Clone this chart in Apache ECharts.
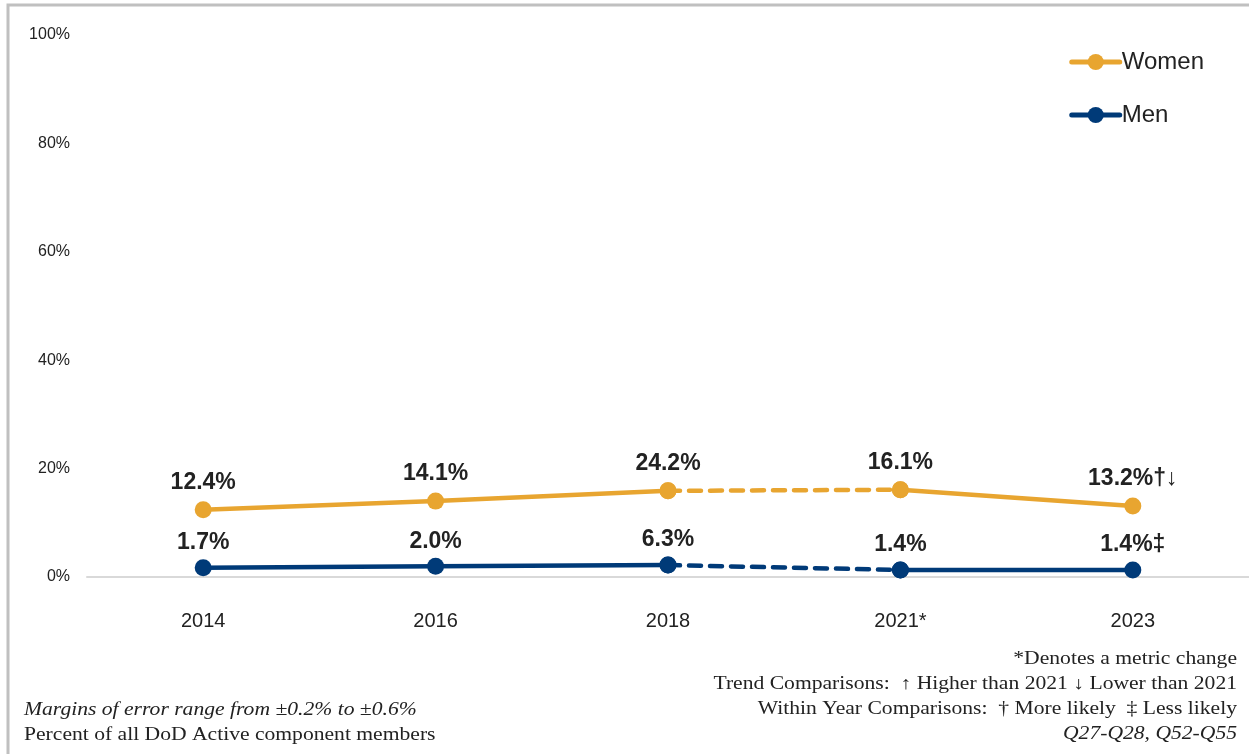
<!DOCTYPE html>
<html>
<head>
<meta charset="utf-8">
<script src="https://cdn.jsdelivr.net/npm/echarts@6/dist/echarts.min.js"></script>
<style>
  html, body { margin: 0; padding: 0; background: #fff; }
  #chart { width: 1249px; height: 754px; }
</style>
</head>
<body>
<div id="chart"></div>
<script>
// years on the x axis
const years = ["2014", "2016", "2018", "2021*", "2023"];
// where the points sit on the picture (percent)
const women = [12.4, 14.0, 15.9, 16.1, 13.1];
const men = [1.7, 2.0, 2.2, 1.3, 1.3];
// printed labels
const womenLabels = ["12.4%", "14.1%", "24.2%", "16.1%", "13.2%†↓"];
const menLabels = ["1.7%", "2.0%", "6.3%", "1.4%", "1.4%‡"];
// y ticks
const yTicks = [0, 20, 40, 60, 80, 100];

const ORANGE = "#E8A530";
const NAVY = "#003A78";
const SERIF = "'Liberation Serif', 'Times New Roman', serif";
const SANS = "Liberation Sans, Arial, sans-serif";

const chart = echarts.init(document.getElementById("chart"));

// solid 2014-2018 and 2021-2023, dashed 2018-2021
function firstPart(vals) {
  return vals.map((v, i) => (i <= 2 ? v : "-"));
}
function lastPart(vals) {
  return vals.map((v, i) => (i >= 3 ? v : "-"));
}
function dashPart(vals) {
  return vals.map((v, i) => (i === 2 || i === 3 ? v : "-"));
}

function labelCfg(labels, dist) {
  return {
    show: true,
    position: "top",
    distance: dist,
    fontFamily: SANS,
    fontSize: 23,
    fontWeight: "bold",
    color: "#222",
    formatter: (p) => labels[p.dataIndex],
  };
}

function lineSeries(name, data, color, labels, dashed, dist) {
  return {
    name: name,
    type: "line",
    data: data,
    symbol: "circle",
    symbolSize: 17,
    showSymbol: true,
    silent: true,
    z: dashed ? 2 : 3,
    lineStyle: { color: color, width: 4.5, type: dashed ? [12, 9] : "solid", cap: "round" },
    itemStyle: { color: color },
    label: labels ? labelCfg(labels, dist) : { show: false },
  };
}

function note(text, x, y, align, italic) {
  return {
    type: "text",
    x: x,
    y: y,
    scaleX: 1.2,
    style: {
      text: text,
      font: (italic ? "italic " : "") + "18px " + SERIF,
      fill: "#222",
      align: align,
      verticalAlign: "middle",
    },
  };
}

chart.setOption({
  animation: false,
  backgroundColor: "#fff",
  graphic: [
    {
      type: "rect",
      shape: { x: 8, y: 5, width: 1300, height: 800 },
      style: { fill: "none", stroke: "#c0c0c0", lineWidth: 3 },
      z: 0,
    },
    note("Margins of error range from ±0.2% to ±0.6%", 24, 710, "left", true),
    note("Percent of all DoD Active component members", 24, 735, "left", false),
    note("*Denotes a metric change", 1237, 659, "right", false),
    note("Trend Comparisons:  ↑ Higher than 2021 ↓ Lower than 2021", 1237, 684, "right", false),
    note("Within Year Comparisons:  † More likely  ‡ Less likely", 1237, 709, "right", false),
    note("Q27-Q28, Q52-Q55", 1237, 734, "right", true),
  ],
  legend: {
    orient: "vertical",
    right: 40,
    top: 45,
    itemWidth: 48,
    itemHeight: 20,
    itemGap: 29,
    data: ["Women", "Men"],
    lineStyle: { width: 5 },
    textStyle: {
      fontFamily: SANS,
      fontSize: 24,
      color: "#222",
      padding: [0, 0, 0, -3],
    },
  },
  grid: { left: 87, right: -3, top: 35, bottom: 177, containLabel: false },
  xAxis: {
    type: "category",
    data: years,
    boundaryGap: true,
    axisLine: { show: true, lineStyle: { color: "#d9d9d9", width: 2 } },
    axisTick: { show: false },
    axisLabel: {
      margin: 34,
      fontFamily: SANS,
      fontSize: 20,
      color: "#222",
    },
  },
  yAxis: {
    type: "value",
    min: yTicks[0],
    max: yTicks[yTicks.length - 1],
    interval: 20,
    splitLine: { show: false },
    axisLine: { show: false },
    axisTick: { show: false },
    axisLabel: {
      margin: 17,
      fontFamily: SANS,
      fontSize: 16,
      color: "#222",
      formatter: (v) => v + "%",
    },
  },
  series: [
    lineSeries("Women", firstPart(women), ORANGE, womenLabels, false, 7),
    lineSeries("Women", lastPart(women), ORANGE, womenLabels, false, 7),
    lineSeries("Women dash", dashPart(women), ORANGE, null, true),
    lineSeries("Men", firstPart(men), NAVY, menLabels, false, 5),
    lineSeries("Men", lastPart(men), NAVY, menLabels, false, 5),
    lineSeries("Men dash", dashPart(men), NAVY, null, true),
  ],
});
</script>
</body>
</html>
